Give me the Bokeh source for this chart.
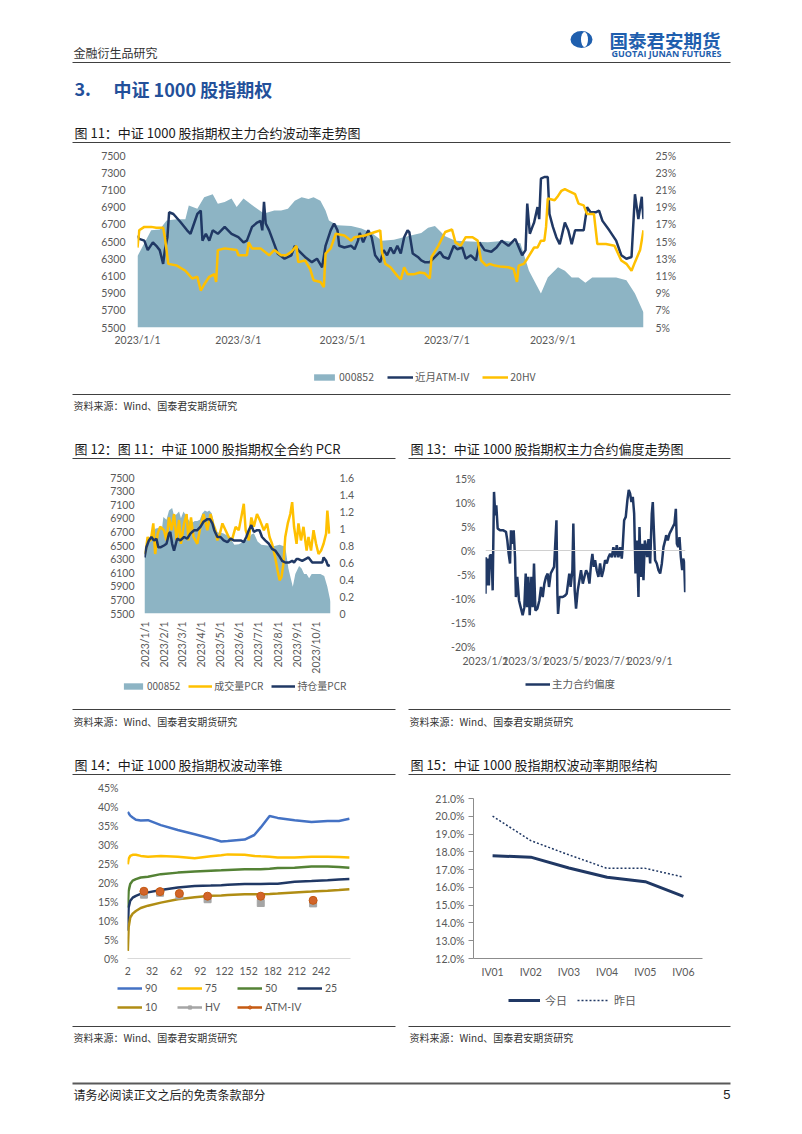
import math
from bokeh.plotting import figure
from bokeh.models import (Range1d, LinearAxis, FixedTicker, Legend, LegendItem, Span,
                          PrintfTickFormatter, NumeralTickFormatter, FactorRange)
from bokeh.layouts import column, row
from bokeh.embed import file_html
from bokeh.resources import INLINE
from bokeh.core.properties import value

CJK = "Noto Sans CJK SC"
NUM = "Lato"
GRAY = "#595959"
NAVY = "#203864"
GOLD = "#ffc000"
TEAL = "#8db4c4"
BLUE = "#23509a"
LOGO = "#1f5fae"
C90, C50, C10, CHV, CATM = "#4472c4", "#548235", "#b08d14", "#a5a5a5", "#c55a11"
NAN = float("nan")

# ---------------- data ----------------
# x = days since 2023/1/1
date_ticks = [0, 59, 120, 181, 243]
date_labels = ["2023/1/1", "2023/3/1", "2023/5/1", "2023/7/1", "2023/9/1"]
month_ticks = [0, 31, 59, 90, 120, 151, 181, 212, 243, 273]
month_labels = ["2023/1/1", "2023/2/1", "2023/3/1", "2023/4/1", "2023/5/1",
                "2023/6/1", "2023/7/1", "2023/8/1", "2023/9/1", "2023/10/1"]

# 000852 index close
idx_pts = [(0, 6330), (4, 6480), (8, 6630), (13, 6640), (17, 6745), (23, 6760), (28, 6760),
           (30, 6920), (35, 6880), (39, 7015), (44, 7050), (47, 6940), (51, 6960), (55, 7000),
           (58, 6900), (62, 7000), (66, 6940), (70, 6880), (74, 6825), (80, 6860), (84, 6860),
           (88, 6880), (92, 6975), (96, 7015), (100, 6995), (103, 7015), (107, 6975), (110, 6860),
           (112, 6745), (117, 6690), (125, 6680), (131, 6650), (137, 6600), (143, 6510),
           (150, 6520), (158, 6560), (166, 6600), (170, 6660), (174, 6680), (180, 6560),
           (186, 6510), (195, 6500), (205, 6490), (215, 6510), (224, 6480), (229, 6160),
           (236, 5895), (240, 6080), (246, 6200), (250, 6160), (254, 6080), (258, 6080),
           (262, 6020), (266, 6080), (272, 6080), (280, 6080), (286, 6050), (291, 5895),
           (296, 5674)]

# near-month ATM implied vol (%)
atm_pts = [(0, 15.7), (1, 15.3), (4, 15.1), (6, 14.0), (9, 14.9), (11, 14.5), (13, 14.0),
           (15, 12.4), (16, 14.0), (17.5, 15.5), (18.5, 18.4), (21, 18.2), (25, 17.3),
           (29, 16.3), (31, 15.9), (35, 18.2), (37, 18.6), (38, 15.1), (40, 15.9), (42, 15.1),
           (44, 16.3), (47, 15.9), (51, 16.7), (55, 15.9), (59, 15.5), (62, 14.9), (64, 15.1),
           (67, 16.7), (70, 17.2), (72, 17.4), (73, 16.3), (74, 19.6), (75, 17.1), (77, 16.3),
           (80, 14.7), (82, 13.6), (86, 13.0), (90, 13.4), (92, 14.5), (94, 14.0), (98, 13.2),
           (102, 12.6), (105, 13.0), (108, 12.0), (110, 14.5), (113, 16.3), (115, 17.1),
           (117, 16.3), (118, 14.5), (121, 14.3), (125, 14.5), (127, 14.1), (129, 15.1),
           (130, 16.0), (132, 14.9), (135, 16.3), (137, 15.5), (139, 13.4), (142, 12.6),
           (144, 14.0), (146, 13.4), (148, 14.3), (150, 13.6), (152, 14.5), (154, 13.6),
           (156, 15.5), (158, 16.3), (159, 16.1), (161, 13.6), (164, 13.2), (166, 12.8),
           (168, 12.6), (171, 12.6), (174, 13.2), (177, 13.8), (179, 13.2), (182, 13.0),
           (185, 14.5), (187, 14.1), (190, 14.3), (192, 13.0), (195, 13.4), (198, 12.8),
           (200, 14.9), (203, 14.0), (207, 13.8), (210, 14.3), (213, 15.1), (217, 14.5),
           (221, 15.3), (225, 13.4), (227, 14.0), (228, 19.4), (229.5, 15.9), (231, 16.7),
           (232, 17.2), (234, 19.0), (235, 17.6), (236, 22.3), (238, 22.5), (240, 22.5),
           (241, 18.2), (243, 16.7), (245, 15.5), (247, 14.7), (248, 15.5), (250, 17.2),
           (252, 16.3), (254, 14.7), (256, 16.3), (258, 16.3), (261, 16.3), (263, 19.0),
           (265, 18.4), (268, 18.4), (270, 18.6), (272, 17.4), (276, 16.3), (280, 15.1),
           (283, 13.4), (286, 13.0), (289, 13.2), (291, 20.5), (293, 17.6), (295, 20.2),
           (296, 17.6)]

# 20-day historical vol (%)
hv_pts = [(0, 14.3), (1, 16.3), (4, 16.7), (8, 16.7), (11, 16.6), (15, 16.6), (16, 15.5),
          (18, 12.4), (23, 12.2), (28, 11.6), (32, 10.7), (35, 10.9), (37, 9.3), (39, 10.0),
          (42, 10.9), (45, 11.2), (46, 10.3), (47, 14.0), (51, 14.2), (58, 14.0), (59, 13.4),
          (64, 13.4), (65, 14.9), (67, 14.2), (72, 14.2), (77, 13.4), (80, 14.0), (84, 13.4),
          (87, 13.4), (90, 13.8), (93, 14.5), (94, 12.6), (98, 12.8), (101, 11.8), (103, 10.5),
          (107, 10.3), (109, 9.7), (110, 13.6), (113, 14.2), (116, 15.9), (121, 15.7),
          (125, 15.1), (127, 15.5), (133, 15.7), (139, 16.1), (142, 16.3), (143, 13.8),
          (145, 12.4), (148, 12.0), (152, 11.0), (154, 10.6), (156, 12.0), (158, 11.2),
          (162, 11.2), (165, 11.4), (168, 11.3), (171, 10.7), (172, 13.2), (176, 14.5),
          (180, 16.1), (184, 16.4), (186, 14.9), (189, 14.5), (192, 15.5), (196, 15.5),
          (199, 15.1), (201, 12.8), (204, 12.2), (206, 12.4), (209, 12.2), (212, 12.1),
          (217, 12.0), (220, 11.8), (222, 10.3), (223, 12.2), (226, 12.4), (228, 13.0),
          (232, 14.3), (234, 14.3), (236, 15.1), (238, 15.1), (239, 16.7), (240, 20.0),
          (244, 19.8), (246, 20.3), (248, 20.9), (250, 21.1), (252, 20.9), (256, 20.5),
          (258, 19.4), (261, 19.2), (263, 18.2), (267, 18.2), (269, 14.7), (274, 14.7),
          (279, 14.5), (283, 12.8), (286, 12.4), (289, 11.6), (291, 12.6), (294, 14.0),
          (296, 16.3)]

# volume PCR
vpcr_pts = [(0, 0.70), (2, 0.74), (5, 0.90), (8, 0.86), (10, 0.86), (14, 1.06), (17, 0.70),
            (21, 0.94), (25, 1.02), (31, 0.98), (35, 0.86), (39, 1.13), (43, 0.98), (47, 1.17),
            (51, 0.86), (55, 1.10), (58, 0.82), (63, 1.06), (67, 1.17), (70, 0.86), (74, 1.13),
            (78, 0.90), (84, 0.82), (89, 1.02), (94, 1.17), (100, 0.98), (105, 1.17),
            (109, 1.06), (113, 0.98), (116, 0.86), (120, 0.94), (124, 1.06), (129, 0.98),
            (134, 0.90), (139, 0.86), (145, 1.02), (150, 0.98), (155, 1.17), (158, 1.29),
            (161, 0.98), (166, 0.86), (170, 1.13), (174, 1.02), (179, 1.17), (184, 1.09),
            (190, 0.98), (195, 1.06), (199, 0.90), (203, 0.82), (208, 0.66), (212, 0.50),
            (215, 0.39), (218, 0.43), (221, 0.58), (224, 0.90), (228, 1.06), (232, 1.17),
            (235, 1.31), (238, 1.02), (242, 0.82), (245, 1.06), (249, 0.86), (253, 1.02),
            (258, 0.74), (261, 0.90), (265, 0.74), (269, 0.98), (273, 0.82), (277, 0.70),
            (281, 0.74), (285, 0.82), (289, 0.94), (291, 1.21), (294, 0.94)]

# open-interest PCR
opcr_pts = [(0, 0.66), (3, 0.78), (7, 0.86), (11, 0.90), (15, 0.86), (19, 0.88), (22, 0.78),
            (26, 0.78), (31, 0.80), (35, 0.82), (39, 0.94), (41, 0.96), (44, 0.82), (47, 0.74),
            (52, 0.88), (57, 0.86), (63, 0.90), (68, 0.88), (73, 0.94), (79, 0.98), (84, 0.98),
            (89, 1.02), (94, 1.08), (100, 1.11), (104, 1.11), (108, 1.06), (111, 0.98),
            (116, 0.90), (121, 0.90), (126, 0.86), (132, 0.84), (137, 0.88), (142, 0.86),
            (147, 0.86), (153, 0.86), (158, 0.84), (162, 0.90), (166, 0.98), (170, 1.04),
            (174, 0.96), (179, 0.98), (183, 0.98), (187, 0.90), (192, 0.86), (198, 0.82),
            (203, 0.76), (208, 0.74), (214, 0.68), (219, 0.62), (224, 0.60), (230, 0.60),
            (235, 0.62), (238, 0.60), (242, 0.64), (245, 0.64), (251, 0.62), (256, 0.64),
            (261, 0.66), (267, 0.60), (272, 0.60), (277, 0.60), (283, 0.60), (285, 0.66),
            (289, 0.62), (292, 0.56), (295, 0.57)]

# main contract skew (%)
skew_pts = [(0, -9.0), (0.5, -1.4), (1.7, -7.3), (3, -1.7), (5, -7.3), (6.6, -1.0), (9, -1.0),
            (10.6, -8.3), (12.6, 12.2), (14.5, 7.3), (16, 9.4), (18, 4.6), (21.5, 4.2),
            (26.4, 4.2), (30.3, 3.9), (32.3, 2.1), (34.3, -0.7), (36.3, -2.7), (37.7, 4.2),
            (39.7, 1.4), (41.7, 4.2), (43.7, -1.4), (45, -9.7), (47, -5.5), (49.6, -10.4),
            (52, -11.8), (55, -13.5), (57.5, -11.8), (59.5, -4.8), (61.5, -11.8), (63.4, -5.5),
            (65.4, -13.5), (67.9, -5.5), (69.8, -11.8), (71.8, -2.7), (73.8, -12.5),
            (76.8, -12.1), (79.7, -10.4), (82.2, -7.6), (84.7, -9.7), (87.1, -6.9), (89.6, -5.5),
            (92, -4.8), (94, -7.6), (96.5, -4.8), (99, -4.1), (101.5, -3.4), (103, 0.7),
            (105, 6.3), (106.4, -9.0), (107.4, -13.2), (109.4, -9.7), (111.8, -9.7),
            (114.3, -9.7), (117.7, -9.4), (120.2, -9.0), (124, -4.8), (126, -7.6), (128.6, -4.1),
            (130, 5.6), (132, -8.3), (134, -12.1), (136.5, -8.3), (139, -6.2), (141.4, -4.1),
            (144, -6.9), (146.4, -5.5), (148.9, -4.1), (151.3, -4.8), (153.8, -6.9),
            (156.3, -2.7), (158.2, -0.7), (160.2, -3.4), (162.2, -2.0), (164.6, -4.1),
            (167.1, -5.5), (169.6, -2.7), (172, -5.5), (174.5, -4.1), (177, -2.0), (179.5, -2.7),
            (182, -1.4), (184.4, -0.7), (186.9, -1.4), (189.3, 0.7), (191.8, -1.4), (194.3, 1.1),
            (196.7, -1.4), (199.2, 0.7), (201.7, -1.7), (203, 0.7), (205.2, 6.3), (207.6, 7.0),
            (210, 10.5), (212, 12.6), (214, 11.9), (216, 10.1), (218, 11.2), (220, 7.7),
            (222, -4.8), (224, 2.1), (226.4, -9.7), (227.9, 4.9), (229.9, -5.5), (231.8, 1.4),
            (233.8, -6.2), (235.8, 2.1), (237.7, 0.7), (239.2, -1.4), (241.2, 2.4),
            (243.7, -2.7), (246.1, 7.7), (247.6, 10.1), (249, 4.9), (251, -2.0), (253.5, -2.7),
            (256, -4.1), (258.5, -4.8), (261, -2.7), (263.4, 0.7), (265.9, 2.1), (267.4, 3.2),
            (269.8, 2.1), (272.3, 3.5), (274.8, 4.2), (277.2, 4.9), (279.7, 5.6), (281.7, 8.7),
            (283.2, 1.4), (285.2, 0.7), (287.1, 2.8), (289.1, -1.4), (291.1, -4.1),
            (292.6, -1.7), (294, -2.4), (295.5, -8.7)]

# volatility cone (%), x = days to expiry
cone_x = [2, 3, 5, 8, 12, 18, 27, 43, 64, 85, 105, 118, 126, 147, 159, 167, 178, 188, 209,
          230, 250, 264, 277]
cone_90 = [38.6, 38.2, 37.6, 37.1, 36.5, 36.3, 36.4, 35.1, 33.8, 32.7, 31.6, 30.8, 30.9, 31.3,
           32.5, 34.5, 37.5, 37.0, 36.4, 35.9, 36.2, 36.2, 36.8]
cone_75 = [24.8, 26.2, 27.0, 27.3, 27.3, 27.0, 26.8, 27.0, 26.8, 26.4, 26.9, 27.2, 27.4, 27.3,
           27.0, 26.9, 26.8, 26.6, 26.6, 26.8, 26.8, 26.7, 26.6]
cone_50 = [13.4, 17.8, 19.6, 20.5, 20.9, 21.3, 21.5, 22.2, 22.6, 22.9, 23.1, 23.2, 23.3, 23.5,
           23.5, 23.5, 23.6, 23.8, 23.9, 24.2, 24.2, 24.1, 23.9]
cone_25 = [7.3, 13.4, 15.2, 16.0, 16.5, 17.0, 17.4, 18.0, 18.7, 19.1, 19.2, 19.3, 19.4, 19.6,
           19.6, 19.6, 19.7, 19.7, 20.2, 20.4, 20.6, 20.8, 20.9]
cone_10 = [2.0, 8.2, 10.8, 11.8, 12.5, 13.3, 13.9, 14.7, 15.6, 16.1, 16.5, 16.6, 16.7, 16.9,
           16.9, 16.9, 17.0, 17.1, 17.4, 17.6, 17.8, 18.0, 18.2]
cone_pt_x = [22, 42, 66, 101, 167, 232]
cone_hv = [16.8, 17.3, 16.6, 15.6, 14.6, 14.5]
cone_atm = [17.7, 17.6, 17.1, 16.4, 16.4, 15.3]
cone_ticks = [2, 32, 62, 92, 122, 152, 182, 212, 242]

# term structure (%)
term_cats = ["IV01", "IV02", "IV03", "IV04", "IV05", "IV06"]
term_today = [17.78, 17.70, 17.09, 16.57, 16.32, 15.50]
term_prev = [20.01, 18.63, 17.83, 17.07, 17.07, 16.58]

idx_ticks = [5500, 5700, 5900, 6100, 6300, 6500, 6700, 6900, 7100, 7300, 7500]
vol_ticks = [5, 7, 9, 11, 13, 15, 17, 19, 21, 23, 25]
pcr_ticks = [0, 0.2, 0.4, 0.6, 0.8, 1, 1.2, 1.4, 1.6]
skew_ticks = [-20, -15, -10, -5, 0, 5, 10, 15]
cone_y_ticks = [0, 5, 10, 15, 20, 25, 30, 35, 40, 45]
term_ticks = [12, 13, 14, 15, 16, 17, 18, 19, 20, 21]

SRC = "资料来源：Wind、国泰君安期货研究"

W = 802
HALF = 401


def unzip(pts):
    return [a for a, _ in pts], [b for _, b in pts]


# ---------------- helpers ----------------
def band(y0, y1):
    p = figure(width=W, height=y1 - y0, x_range=Range1d(0, W), y_range=Range1d(y1, y0),
               x_axis_type=None, y_axis_type=None, toolbar_location=None, output_backend="svg",
               min_border=0, outline_line_color=None, background_fill_color="white",
               border_fill_color="white", frame_align=False)
    return p


def put_text(p, x, y, s, size="13px", color="#1a1a1a", font=CJK, style="normal", align="left"):
    p.text(x=[x], y=[y], text=[s], text_font=value(font), text_font_size=size,
           text_color=color, text_font_style=style, text_baseline="middle", text_align=align)


def rule(p, x0, x1, y, width=1, color="#404040"):
    p.segment(x0=[x0], y0=[y], x1=[x1], y1=[y], line_color=color, line_width=width)


def chart(w, h, left, right, top, bottom, x_range, y_range):
    p = figure(width=w, height=h, x_range=x_range, y_range=y_range, toolbar_location=None,
               output_backend="svg", min_border_left=left, min_border_right=right,
               min_border_top=top, min_border_bottom=bottom, outline_line_color=None,
               background_fill_color="white", border_fill_color="white", frame_align=False)
    p.xgrid.visible = False
    p.ygrid.visible = False
    return p


def style_axis(ax, standoff=8, size="10.5px", line=None, tick_out=0):
    ax.axis_line_color = line
    ax.major_tick_line_color = line if tick_out else None
    ax.major_tick_out = tick_out
    ax.major_tick_in = 0
    ax.minor_tick_line_color = None
    ax.minor_tick_out = 0
    ax.major_label_text_font = NUM
    ax.major_label_text_font_size = size
    ax.major_label_text_color = GRAY
    ax.major_label_standoff = standoff


def add_legend(p, items, loc, glyph_w=26, glyph_h=8, spacing=12, standoff=2, size="10.5px",
               label_width=20, font=CJK):
    lg = Legend(items=items, location=loc, orientation="horizontal", glyph_width=glyph_w,
                glyph_height=glyph_h, label_standoff=standoff, spacing=spacing, padding=0,
                margin=0, border_line_color=None, background_fill_alpha=0,
                label_text_font=font, label_text_font_size=size, label_text_color=GRAY,
                label_height=12, label_width=label_width)
    p.add_layout(lg, "center")


# legend swatches: style-only renderers holding a single NaN point (nothing is drawn)
def swatch_area(p, color):
    return p.varea(x=[NAN], y1=[NAN], y2=[NAN], fill_color=color)


def swatch_line(p, color, width=2.5, dash="solid"):
    return p.line(x=[NAN, NAN], y=[NAN, NAN], line_color=color, line_width=width,
                  line_dash=dash)


def swatch_marker(p, marker, size, fill, line):
    return p.scatter(x=[NAN], y=[NAN], marker=marker, size=size, fill_color=fill,
                     line_color=line)


# ---------------- band 1: header ----------------
b1 = band(0, 148)
put_text(b1, 73, 52, "金融衍生品研究", size="12px", color="#333333")
rule(b1, 72, 730, 62)
b1.ellipse(x=[581], y=[39], width=22, height=17, fill_color=LOGO, line_color=None)
b1.ellipse(x=[584], y=[39], width=7, height=15, fill_color="white", line_color=None)
put_text(b1, 609, 39, "国泰君安期货", size="18.5px", color=LOGO, style="bold")
put_text(b1, 611, 53, "GUOTAI JUNAN FUTURES", size="9px", color=LOGO, font="Open Sans",
         style="bold")
put_text(b1, 74, 88, "3.", size="18px", color=BLUE, style="bold")
put_text(b1, 113, 88, "中证 1000 股指期权", size="18px", color=BLUE, style="bold")
put_text(b1, 74, 132, "图 11：中证 1000 股指期权主力合约波动率走势图")
rule(b1, 72, 730, 142)

# ---------------- band 2: figure 11 ----------------
p1 = chart(W, 212, 137, 159, 7, 33, Range1d(0, 296), Range1d(5500, 7500))
p1.extra_y_ranges = {"vol": Range1d(5, 25)}
dx, dv = unzip(idx_pts)
p1.varea(x=dx, y1=idx_ticks[0], y2=dv, fill_color=TEAL)
ax_, av_ = unzip(atm_pts)
p1.line(ax_, av_, y_range_name="vol", line_color=NAVY, line_width=2.5)
hx_, hv_ = unzip(hv_pts)
p1.line(hx_, hv_, y_range_name="vol", line_color=GOLD, line_width=2.5)
p1.yaxis.ticker = FixedTicker(ticks=idx_ticks)
style_axis(p1.yaxis[0], standoff=12)
p1.xaxis.ticker = FixedTicker(ticks=date_ticks)
p1.xaxis.major_label_overrides = dict(zip(date_ticks, date_labels))
style_axis(p1.xaxis[0], standoff=6)
ax_r = LinearAxis(y_range_name="vol", ticker=FixedTicker(ticks=vol_ticks),
                  formatter=PrintfTickFormatter(format="%d%%"))
style_axis(ax_r, standoff=12)
p1.add_layout(ax_r, "right")

# ---------------- band 3 ----------------
b3 = band(360, 470)
add_legend(b3, [LegendItem(label="000852", renderers=[swatch_area(b3, TEAL)]),
                LegendItem(label="近月ATM-IV", renderers=[swatch_line(b3, NAVY)]),
                LegendItem(label="20HV", renderers=[swatch_line(b3, GOLD)])],
           (311, 86), glyph_w=26, glyph_h=8, spacing=13)
rule(b3, 72, 730, 394)
put_text(b3, 73, 405, SRC, size="10px", color="#333333")
put_text(b3, 74, 448, "图 12：图 11：中证 1000 股指期权全合约 PCR")
rule(b3, 72, 395, 458)
put_text(b3, 410, 448, "图 13：中证 1000 股指期权主力合约偏度走势图")
rule(b3, 408, 730, 458)

# ---------------- band 4: figure 12 & 13 ----------------
p12 = chart(HALF, 206, 144, 71, 7, 63, Range1d(0, 296), Range1d(5500, 7500))
p12.extra_y_ranges = {"pcr": Range1d(0, 1.6)}
p12.varea(x=dx, y1=idx_ticks[0], y2=dv, fill_color=TEAL)
vx, vv = unzip(vpcr_pts)
p12.line(vx, vv, y_range_name="pcr", line_color=GOLD, line_width=2.5)
ox, ov = unzip(opcr_pts)
p12.line(ox, ov, y_range_name="pcr", line_color=NAVY, line_width=2.5)
p12.yaxis.ticker = FixedTicker(ticks=idx_ticks)
style_axis(p12.yaxis[0], standoff=10)
p12.xaxis.ticker = FixedTicker(ticks=month_ticks)
p12.xaxis.major_label_overrides = dict(zip(month_ticks, month_labels))
p12.xaxis.major_label_orientation = math.pi / 2
style_axis(p12.xaxis[0], standoff=8)
ax12 = LinearAxis(y_range_name="pcr", ticker=FixedTicker(ticks=pcr_ticks),
                  formatter=NumeralTickFormatter(format="0.[0]"))
style_axis(ax12, standoff=9)
p12.add_layout(ax12, "right")

p13 = chart(HALF, 206, 84, 117, 8, 30, Range1d(0, 296), Range1d(-20, 15))
p13.add_layout(Span(location=0, dimension="width", line_color="#d0d0d0", line_width=1))
sx, sv = unzip(skew_pts)
p13.line(sx, sv, line_color=NAVY, line_width=2.5)
p13.yaxis.ticker = FixedTicker(ticks=skew_ticks)
p13.yaxis.formatter = PrintfTickFormatter(format="%d%%")
style_axis(p13.yaxis[0], standoff=10)
p13.xaxis.ticker = FixedTicker(ticks=date_ticks)
p13.xaxis.major_label_overrides = dict(zip(date_ticks, date_labels))
style_axis(p13.xaxis[0], standoff=8)

# ---------------- band 5 ----------------
b5 = band(676, 780)
add_legend(b5, [LegendItem(label="000852", renderers=[swatch_area(b5, TEAL)]),
                LegendItem(label="成交量PCR", renderers=[swatch_line(b5, GOLD)]),
                LegendItem(label="持仓量PCR", renderers=[swatch_line(b5, NAVY)])],
           (121, 87), glyph_w=24, glyph_h=8, spacing=8, size="10px")
add_legend(b5, [LegendItem(label="主力合约偏度", renderers=[swatch_line(b5, NAVY)])],
           (525, 89), glyph_w=25, glyph_h=8)
rule(b5, 72, 395, 709)
rule(b5, 408, 730, 709)
put_text(b5, 73, 721, SRC, size="10px", color="#333333")
put_text(b5, 409, 721, SRC, size="10px", color="#333333")
put_text(b5, 74, 764, "图 14：中证 1000 股指期权波动率锥")
put_text(b5, 410, 764, "图 15：中证 1000 股指期权波动率期限结构")
rule(b5, 72, 395, 774)
rule(b5, 408, 730, 774)

# ---------------- band 6: figure 14 & 15 ----------------
p14 = chart(HALF, 200, 127, 51, 7, 22, Range1d(1.6, 278.4), Range1d(0, 45))
p14.line(cone_x, cone_90, line_color=C90, line_width=2.5)
p14.line(cone_x, cone_75, line_color=GOLD, line_width=2.5)
p14.line(cone_x, cone_50, line_color=C50, line_width=2.5)
p14.line(cone_x, cone_25, line_color=NAVY, line_width=2.5)
p14.line(cone_x, cone_10, line_color=C10, line_width=2.5)
p14.scatter(cone_pt_x, cone_hv, marker="square", size=7, fill_color=CHV, line_color=CHV)
p14.scatter(cone_pt_x, cone_atm, marker="circle", size=8, fill_color="#d2642a",
            line_color=CATM)
p14.yaxis.ticker = FixedTicker(ticks=cone_y_ticks)
p14.yaxis.formatter = PrintfTickFormatter(format="%d%%")
style_axis(p14.yaxis[0], standoff=9)
p14.xaxis.ticker = FixedTicker(ticks=cone_ticks)
style_axis(p14.xaxis[0], standoff=8, line="#d9d9d9")

p15 = chart(HALF, 200, 72, 100, 18, 21, FactorRange(factors=term_cats), Range1d(12, 21))
p15.line(term_cats, term_today, line_color=NAVY, line_width=3)
p15.line(term_cats, term_prev, line_color=NAVY, line_width=1.5, line_dash="2 2")
p15.yaxis.ticker = FixedTicker(ticks=term_ticks)
p15.yaxis.formatter = PrintfTickFormatter(format="%.1f%%")
style_axis(p15.yaxis[0], standoff=4, line="#8c8c8c", tick_out=5)
style_axis(p15.xaxis[0], standoff=7, line="#8c8c8c")

# ---------------- band 7 ----------------
b7 = band(980, 1134)
add_legend(b7, [LegendItem(label="90", renderers=[swatch_line(b7, C90)]),
                LegendItem(label="75", renderers=[swatch_line(b7, GOLD)]),
                LegendItem(label="50", renderers=[swatch_line(b7, C50)]),
                LegendItem(label="25", renderers=[swatch_line(b7, NAVY)])],
           (117, 140), glyph_w=25, glyph_h=8, spacing=4, standoff=3, label_width=28,
           font=NUM)
add_legend(b7, [LegendItem(label="10", renderers=[swatch_line(b7, C10)]),
                LegendItem(label="HV", renderers=[swatch_line(b7, CHV),
                                                  swatch_marker(b7, "square", 7, CHV, CHV)]),
                LegendItem(label="ATM-IV", renderers=[swatch_line(b7, CATM),
                                                      swatch_marker(b7, "circle", 8,
                                                                    "#d2642a", CATM)])],
           (117, 121), glyph_w=25, glyph_h=8, spacing=4, standoff=3, label_width=28,
           font=NUM)
add_legend(b7, [LegendItem(label="今日", renderers=[swatch_line(b7, NAVY, 3)]),
                LegendItem(label="昨日", renderers=[swatch_line(b7, NAVY, 1.5, "2 2")])],
           (508, 126), glyph_w=32, glyph_h=8, spacing=10, standoff=5, size="11px")
rule(b7, 72, 395, 1026)
rule(b7, 408, 730, 1026)
put_text(b7, 73, 1037, SRC, size="10px", color="#333333")
put_text(b7, 409, 1037, SRC, size="10px", color="#333333")
rule(b7, 72, 730, 1083, width=2, color="#595959")
put_text(b7, 73, 1094, "请务必阅读正文之后的免责条款部分", size="12px", color="#222222")
put_text(b7, 730, 1094, "5", size="13px", color="#222222", font="Liberation Sans", align="right")

layout = column(b1, p1, b3, row(p12, p13), b5, row(p14, p15), b7)

with open("out.html", "w") as f:
    f.write(file_html(layout, INLINE))
